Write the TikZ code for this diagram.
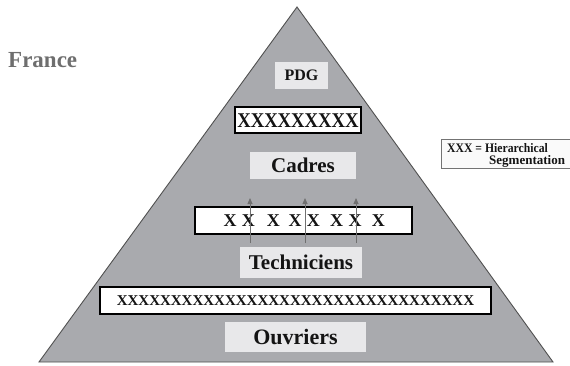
\documentclass[tikz,border=0pt]{standalone}
\usepackage{fontspec}
\setmainfont{Liberation Serif}
\usetikzlibrary{arrows.meta}

\definecolor{pyrfill}{HTML}{A9AAAE}
\definecolor{pyrline}{HTML}{505050}
\definecolor{labelfill}{HTML}{E8E8EA}
\definecolor{inktext}{HTML}{141414}
\definecolor{titlegray}{HTML}{6E6E6E}
\definecolor{arrowgray}{HTML}{707070}
\definecolor{legendfill}{HTML}{FAFAFA}

\tikzset{
  levelbox/.style={fill=labelfill, draw=none, inner sep=0pt, text=inktext,
    font=\bfseries},
  segbox/.style={fill=white, draw=black, line width=1.1pt, inner sep=0pt},
  segtext/.style={inner sep=0pt, text=inktext, font=\bfseries},
  uparrow/.style={draw=arrowgray, line width=0.8pt,
    -{Triangle[width=5pt,length=6pt]}, arrowgray},
  legendtext/.style={anchor=base west, inner sep=0pt, text=inktext,
    font=\bfseries\fs{13}},
}

\newcommand{\fs}[1]{\fontsize{#1}{#1}\selectfont}

\begin{document}
\begin{tikzpicture}[x=1pt,y=-1pt]
  \useasboundingbox (0,0) rectangle (570,365);

  % pyramid
  \draw[fill=pyrfill, draw=pyrline, line width=0.9pt, line join=miter]
    (297,7) -- (553,362) -- (39,362) -- cycle;

  % title
  \node[anchor=west, inner sep=0pt, text=titlegray, font=\bfseries\fs{23}]
    (title) at (8,60.5) {France};

  % levels
  \node[levelbox, minimum width=53pt, minimum height=27pt, font=\bfseries\fs{16}]
    (pdg) at (301.5,75.5) {PDG};
  \node[segbox, minimum width=126pt, minimum height=26pt]
    (segtop) at (298,120) {};
  \node[segtext, font=\bfseries\fs{21}] (segtoptxt) at (298,120.5)
    {\scalebox{0.89}[1]{XXXXXXXXX}};

  \node[levelbox, minimum width=106pt, minimum height=27pt, font=\bfseries\fs{21}]
    (cadres) at (303,165.5) {Cadres};

  \node[segbox, minimum width=217pt, minimum height=27pt]
    (segmid) at (303.5,220.5) {};
  \foreach \i/\xx in {1/230,2/248.3,3/273.3,4/295,5/313.3,6/336.7,7/355,8/378.3}
    \node[segtext, font=\bfseries\fs{18}] (x\i) at (\xx,221) {X};

  \node[levelbox, minimum width=122pt, minimum height=31pt, font=\bfseries\fs{21}]
    (tech) at (301,262.5) {Techniciens};

  \node[segbox, minimum width=391pt, minimum height=27pt]
    (segbot) at (295.5,300.5) {};
  \node[segtext, font=\bfseries\fs{15}] (segbottxt) at (295.5,301)
    {XXXXXXXXXXXXXXXXXXXXXXXXXXXXXXXXX};

  \node[levelbox, minimum width=141pt, minimum height=30pt, font=\bfseries\fs{22}]
    (ouv) at (295.5,337) {Ouvriers};

  % upward arrows crossing the middle segmentation
  \foreach \i/\xx in {1/250,2/305,3/356} {
    \coordinate (a\i s) at (\xx,243);
    \coordinate (a\i e) at (\xx,198);
    \draw[uparrow] (a\i s) -- (a\i e);
  }

  % legend
  \draw[fill=legendfill, draw=black!55, line width=0.8pt]
    (441,139) rectangle (580,168);
  \node[legendtext] (leg1) at (447,152.5)
    {\scalebox{0.9}[1]{XXX = Hierarchical}};
  \node[legendtext] (leg2) at (489,164.5) {Segmentation};
\end{tikzpicture}
\end{document}
